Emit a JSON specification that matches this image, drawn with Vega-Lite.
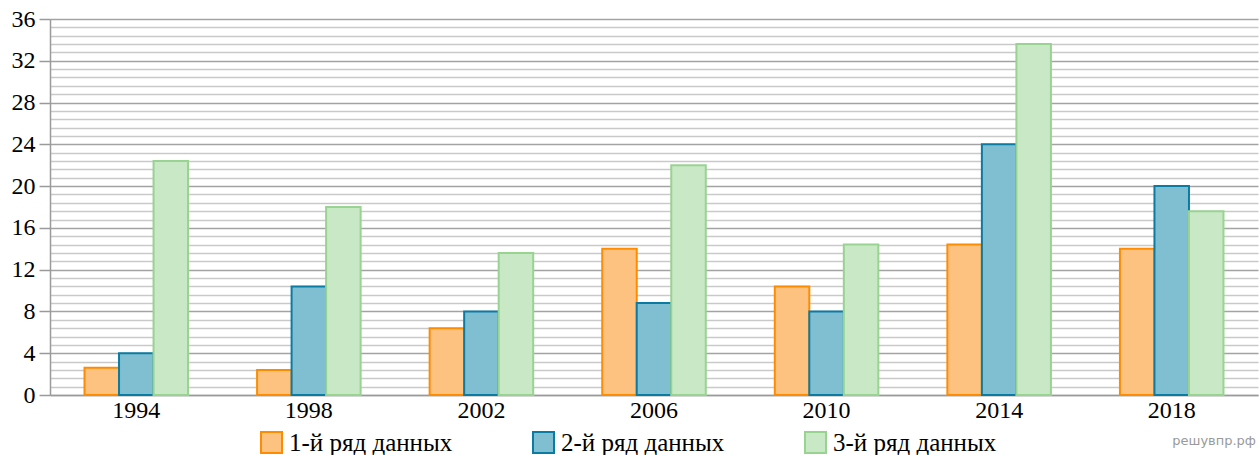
{
  "$schema": "https://vega.github.io/schema/vega-lite/v6.json",
  "autosize": "none",
  "width": 1208,
  "height": 376,
  "padding": {"left": 50, "top": 19, "right": 2, "bottom": 60},
  "background": "white",
  "title": {"text": "решувпр.рф", "orient": "bottom", "anchor": "end", "font": "DejaVu Sans", "fontSize": 13, "fontWeight": "normal", "color": "#9a9a9a", "offset": 0, "dy": -22, "dx": -2},
  "data": {"values": [
    {"year": "1994", "series": "1-й ряд данных", "value": 2.6},
    {"year": "1994", "series": "2-й ряд данных", "value": 4.0},
    {"year": "1994", "series": "3-й ряд данных", "value": 22.4},
    {"year": "1998", "series": "1-й ряд данных", "value": 2.4},
    {"year": "1998", "series": "2-й ряд данных", "value": 10.4},
    {"year": "1998", "series": "3-й ряд данных", "value": 18.0},
    {"year": "2002", "series": "1-й ряд данных", "value": 6.4},
    {"year": "2002", "series": "2-й ряд данных", "value": 8.0},
    {"year": "2002", "series": "3-й ряд данных", "value": 13.6},
    {"year": "2006", "series": "1-й ряд данных", "value": 14.0},
    {"year": "2006", "series": "2-й ряд данных", "value": 8.8},
    {"year": "2006", "series": "3-й ряд данных", "value": 22.0},
    {"year": "2010", "series": "1-й ряд данных", "value": 10.4},
    {"year": "2010", "series": "2-й ряд данных", "value": 8.0},
    {"year": "2010", "series": "3-й ряд данных", "value": 14.4},
    {"year": "2014", "series": "1-й ряд данных", "value": 14.4},
    {"year": "2014", "series": "2-й ряд данных", "value": 24.0},
    {"year": "2014", "series": "3-й ряд данных", "value": 33.6},
    {"year": "2018", "series": "1-й ряд данных", "value": 14.0},
    {"year": "2018", "series": "2-й ряд данных", "value": 20.0},
    {"year": "2018", "series": "3-й ряд данных", "value": 17.6}
  ]},
  "mark": {"type": "bar", "strokeWidth": 2},
  "encoding": {
    "x": {
      "field": "year", "type": "nominal",
      "scale": {"paddingInner": 0.4, "paddingOuter": 0.2},
      "axis": {"title": null, "labelAngle": 0, "ticks": false, "labelFont": "Liberation Serif", "labelFontSize": 24, "labelColor": "#000000", "labelPadding": 3, "domainColor": "#9a9a9a", "domainWidth": 1.5, "grid": false}
    },
    "xOffset": {"field": "series", "type": "nominal"},
    "y": {
      "field": "value", "type": "quantitative",
      "scale": {"domain": [0, 36], "nice": false},
      "axis": {
        "title": null,
        "values": [0,0.8,1.6,2.4,3.2,4,4.8,5.6,6.4,7.2,8,8.8,9.6,10.4,11.2,12,12.8,13.6,14.4,15.2,16,16.8,17.6,18.4,19.2,20,20.8,21.6,22.4,23.2,24,24.8,25.6,26.4,27.2,28,28.8,29.6,30.4,31.2,32,32.8,33.6,34.4,35.2,36],
        "labelExpr": "datum.value % 4 == 0 ? format(datum.value, 'd') : ''",
        "labelFont": "Liberation Serif", "labelFontSize": 24, "labelColor": "#000000",
        "labelPadding": 4,
        "tickSize": 11,
        "tickColor": "#9a9a9a",
        "tickWidth": 1.5,
        "tickOpacity": {"condition": {"test": "datum.value % 4 == 0", "value": 1}, "value": 0},
        "grid": true,
        "gridColor": {"condition": {"test": "datum.value % 4 == 0", "value": "#a3a3a3"}, "value": "#c9c9c9"},
        "gridWidth": 1.5,
        "domainColor": "#9a9a9a",
        "domainWidth": 1.5
      }
    },
    "fill": {
      "field": "series", "type": "nominal",
      "scale": {"range": ["#FDC280", "#80BFD2", "#C9E8C6"]},
      "legend": {"title": null, "orient": "none", "direction": "horizontal", "legendX": 209, "legendY": 411, "symbolType": "square", "symbolSize": 441, "symbolStrokeWidth": 2, "labelFont": "Liberation Serif", "labelFontSize": 25, "labelColor": "#000000", "labelOffset": 5, "columnPadding": 76, "labelLimit": 400}
    },
    "stroke": {
      "field": "series", "type": "nominal",
      "scale": {"range": ["#FF8C00", "#0A7CA3", "#98D391"]},
      "legend": {"title": null, "orient": "none", "direction": "horizontal", "legendX": 209, "legendY": 411, "symbolType": "square", "symbolSize": 441, "symbolStrokeWidth": 2, "labelFont": "Liberation Serif", "labelFontSize": 25, "labelColor": "#000000", "labelOffset": 5, "columnPadding": 76, "labelLimit": 400}
    }
  },
  "config": {"view": {"stroke": null}}
}
